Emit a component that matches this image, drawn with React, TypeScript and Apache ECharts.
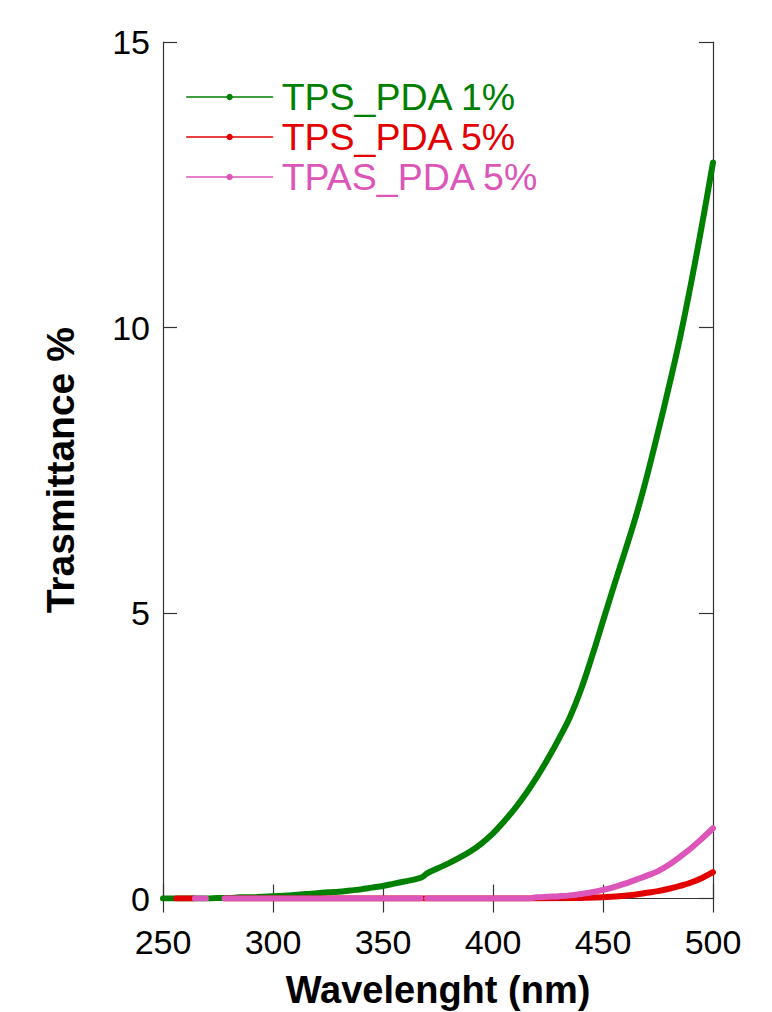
import React, { useEffect, useRef } from "react";
import * as echarts from "echarts";

// ---- data ----
const seriesNames = ["TPS_PDA 1%", "TPS_PDA 5%", "TPAS_PDA 5%"];
const seriesColors = ["#008000", "#e30000", "#dc55b8"];

const wlTps1 = [250, 255, 260, 265, 270, 275, 280, 285, 290, 295, 300, 305, 310, 315, 320, 325, 330, 335, 340, 345, 350, 355, 360, 365, 368, 370, 375, 380, 385, 390, 395, 400, 405, 410, 415, 420, 425, 430, 435, 440, 445, 450, 455, 460, 465, 470, 475, 480, 485, 490, 495, 500];
const tTps1 = [0, 0, 0, 0, 0, 0.01, 0.01, 0.02, 0.02, 0.03, 0.04, 0.05, 0.06, 0.08, 0.09, 0.11, 0.12, 0.14, 0.16, 0.19, 0.22, 0.26, 0.3, 0.34, 0.38, 0.44, 0.53, 0.62, 0.72, 0.83, 0.97, 1.14, 1.35, 1.58, 1.84, 2.13, 2.45, 2.8, 3.18, 3.66, 4.24, 4.86, 5.48, 6.08, 6.7, 7.4, 8.17, 8.97, 9.82, 10.77, 11.8, 12.89];

// null = gap in the measured trace
const wlTps5 = [256, 260, 264, 271, 278, 300, 325, 350, 375, 400, 420, 430, 440, 450, 455, 460, 465, 470, 475, 480, 485, 490, 495, 500];
const tTps5 = [0, 0, 0, null, 0, 0, 0, 0, 0, 0, 0, 0.005, 0.01, 0.02, 0.035, 0.05, 0.07, 0.1, 0.13, 0.17, 0.22, 0.28, 0.36, 0.46];

const wlTpas5 = [264.5, 267, 269.5, 273, 278, 290, 300, 325, 350, 365, 367, 368.5, 370, 380, 400, 415, 420, 425, 430, 435, 440, 445, 450, 455, 460, 465, 470, 475, 480, 485, 490, 495, 500];
const tTpas5 = [0, 0, 0, null, 0, 0, 0, 0, 0, 0, 0, null, 0, 0, 0, 0, 0.02, 0.03, 0.04, 0.055, 0.08, 0.11, 0.15, 0.2, 0.26, 0.33, 0.4, 0.48, 0.59, 0.73, 0.88, 1.05, 1.23];

const xTicks = { min: 250, max: 500, interval: 50 };
const yTicks = { min: 0, max: 15, interval: 5 };

const FONT = "'Liberation Sans', Arial, sans-serif";

function zip(xs: number[], ys: (number | null)[]) {
  return xs.map((x, i) => [x, ys[i] === null ? "-" : ys[i]]);
}

export default function App() {
  const ref = useRef<HTMLDivElement>(null);
  useEffect(() => {
    document.body.style.margin = "0";
    if (!ref.current) return;
    const chart = echarts.init(ref.current, null, { renderer: "svg" });
    const axisLine = { show: true, lineStyle: { color: "#333", width: 1.2 } };
    const axisTick = { show: true, inside: true, length: 14, lineStyle: { color: "#333", width: 1.2 } };
    const datasets = [zip(wlTps1, tTps1), zip(wlTps5, tTps5), zip(wlTpas5, tTpas5)];
    chart.setOption({
      animation: false,
      backgroundColor: "#fff",
      grid: { left: 163, right: 59, top: 42, bottom: 113.5, containLabel: false, outerBoundsMode: "none" },
      legend: {
        orient: "vertical",
        left: 181,
        top: 72,
        itemGap: 0,
        itemWidth: 86,
        itemHeight: 8,
        lineStyle: { width: 1.3 },
        data: seriesNames.map((n, i) => ({
          name: n,
          textStyle: { color: seriesColors[i] },
        })),
        textStyle: { fontFamily: FONT, fontSize: 37.5, lineHeight: 40, padding: [0, 0, 0, 4] },
      },
      xAxis: [
        {
          type: "value",
          ...xTicks,
          position: "bottom",
          axisLine,
          axisTick,
          splitLine: { show: false },
          axisLabel: { fontFamily: FONT, fontSize: 34, color: "#000", margin: 26 },
          name: "Wavelenght (nm)",
          nameLocation: "middle",
          nameGap: 72,
          nameTextStyle: { fontFamily: FONT, fontSize: 38, fontWeight: "bold", color: "#000" },
        },
        {
          type: "value",
          ...xTicks,
          position: "top",
          axisLine,
          axisTick,
          splitLine: { show: false },
          axisLabel: { show: false },
        },
      ],
      yAxis: [
        {
          type: "value",
          ...yTicks,
          position: "left",
          axisLine,
          axisTick,
          splitLine: { show: false },
          axisLabel: { fontFamily: FONT, fontSize: 34, color: "#000", margin: 13 },
          name: "Trasmittance %",
          nameLocation: "middle",
          nameGap: 83,
          nameTextStyle: { fontFamily: FONT, fontSize: 39, fontWeight: "bold", color: "#000" },
        },
        {
          type: "value",
          ...yTicks,
          position: "right",
          axisLine,
          axisTick,
          splitLine: { show: false },
          axisLabel: { show: false },
        },
      ],
      series: seriesNames.map((n, i) => ({
        name: n,
        type: "line",
        xAxisIndex: 0,
        yAxisIndex: 0,
        data: datasets[i],
        symbol: "circle",
        showSymbol: false,
        smooth: 0.4,
        connectNulls: false,
        color: seriesColors[i],
        lineStyle: { color: seriesColors[i], width: 6, cap: "round", join: "round" },
        itemStyle: { color: seriesColors[i] },
        z: 2 + i,
      })),
    });
    return () => chart.dispose();
  }, []);
  return <div ref={ref} style={{ width: 772, height: 1012 }} />;
}
